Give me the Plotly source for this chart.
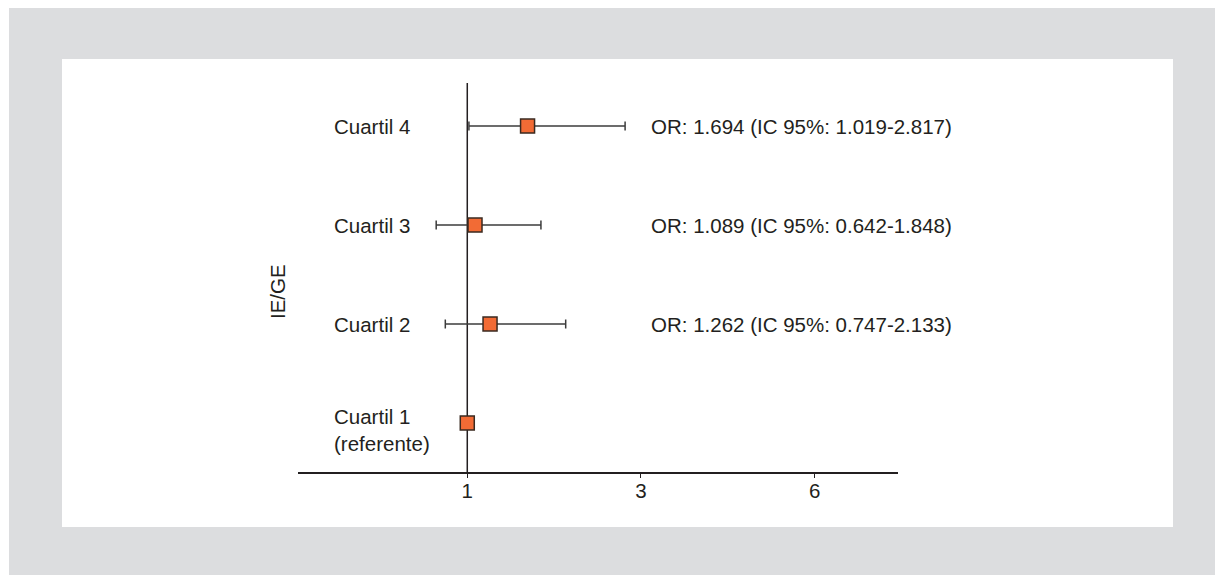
import plotly.graph_objects as go

categories = ["Cuartil 1<br>(referente)", "Cuartil 2", "Cuartil 3", "Cuartil 4"]
or_values = [1.0, 1.262, 1.089, 1.694]
ci_low = [1.0, 0.747, 0.642, 1.019]
ci_high = [1.0, 2.133, 1.848, 2.817]
or_labels = ["", "OR: 1.262 (IC 95%: 0.747-2.133)", "OR: 1.089 (IC 95%: 0.642-1.848)",
             "OR: 1.694 (IC 95%: 1.019-2.817)"]
tick_vals = [1, 3, 5]
tick_text = ["1", "3", "6"]
y_title = "IE/GE"

FONT = "Liberation Sans, Arial, Helvetica, sans-serif"
TXT = "#231f20"
LINE = "#231f20"
FS = 20.5

# page offset (body margin of the html page)
OFF = 8
PL, PR, PT, PB = 298 - OFF, 898 - OFF, 83 - OFF, 472 - OFF

ypos = list(range(len(categories)))
err_plus = [h - v for h, v in zip(ci_high, or_values)]
err_minus = [v - l for v, l in zip(or_values, ci_low)]

fig = go.Figure()
fig.add_trace(go.Scatter(
    x=or_values, y=ypos, mode="markers",
    marker=dict(symbol="square", size=14, color="#f26b35",
                line=dict(color="#3a2a20", width=1.5)),
    error_x=dict(type="data", symmetric=False, array=err_plus, arrayminus=err_minus,
                 color="#3c3c3c", thickness=1.5, width=4.5),
    showlegend=False, hoverinfo="skip",
))


def px_x(p):
    return (p - OFF - PL) / float(PR - PL)


def px_y(p):
    return (PB - (p - OFF)) / float(PB - PT)


fig.add_shape(type="rect", xref="paper", yref="paper",
              x0=px_x(9), x1=px_x(1240), y0=px_y(590), y1=px_y(6),
              fillcolor="#dcdddf", line=dict(width=0), layer="below")
fig.add_shape(type="rect", xref="paper", yref="paper",
              x0=px_x(62), x1=px_x(1173), y0=px_y(527), y1=px_y(59),
              fillcolor="#ffffff", line=dict(width=0), layer="below")

# reference line at OR = 1
fig.add_shape(type="line", xref="x", yref="paper", x0=1, x1=1, y0=0, y1=1,
              line=dict(color=LINE, width=1.5), layer="below")

for yi, cat in zip(ypos, categories):
    fig.add_annotation(x=px_x(332), y=yi, xref="paper", yref="y", text=cat,
                       showarrow=False, xanchor="left", yanchor="middle", align="left",
                       yshift=-7 if "<br>" in cat else 0,
                       font=dict(family=FONT, size=FS, color=TXT))
for yi, lab in zip(ypos, or_labels):
    if lab:
        fig.add_annotation(x=px_x(649), y=yi, xref="paper", yref="y", text=lab,
                           showarrow=False, xanchor="left", yanchor="middle",
                           font=dict(family=FONT, size=FS, color=TXT))

fig.add_annotation(x=px_x(277), y=px_y(292), xref="paper", yref="paper", text=y_title,
                   showarrow=False, textangle=-90, xanchor="center", yanchor="middle",
                   font=dict(family=FONT, size=FS, color=TXT))

fig.update_layout(
    width=1223, height=575,
    margin=dict(l=PL, r=1223 - PR, t=PT, b=575 - PB),
    paper_bgcolor="#ffffff", plot_bgcolor="rgba(0,0,0,0)",
    xaxis=dict(range=[-0.949, 5.959], tickvals=tick_vals, ticktext=tick_text,
               showgrid=False, zeroline=False, showline=True, linecolor=LINE, linewidth=1.5,
               ticks="outside", ticklen=4, tickcolor=LINE, tickwidth=1,
               ticklabelstandoff=-4,
               tickfont=dict(family=FONT, size=FS, color=TXT)),
    yaxis=dict(range=[-0.495, 3.435], showgrid=False, zeroline=False, showline=False,
               showticklabels=False, ticks=""),
)

fig.write_html("out.html")
